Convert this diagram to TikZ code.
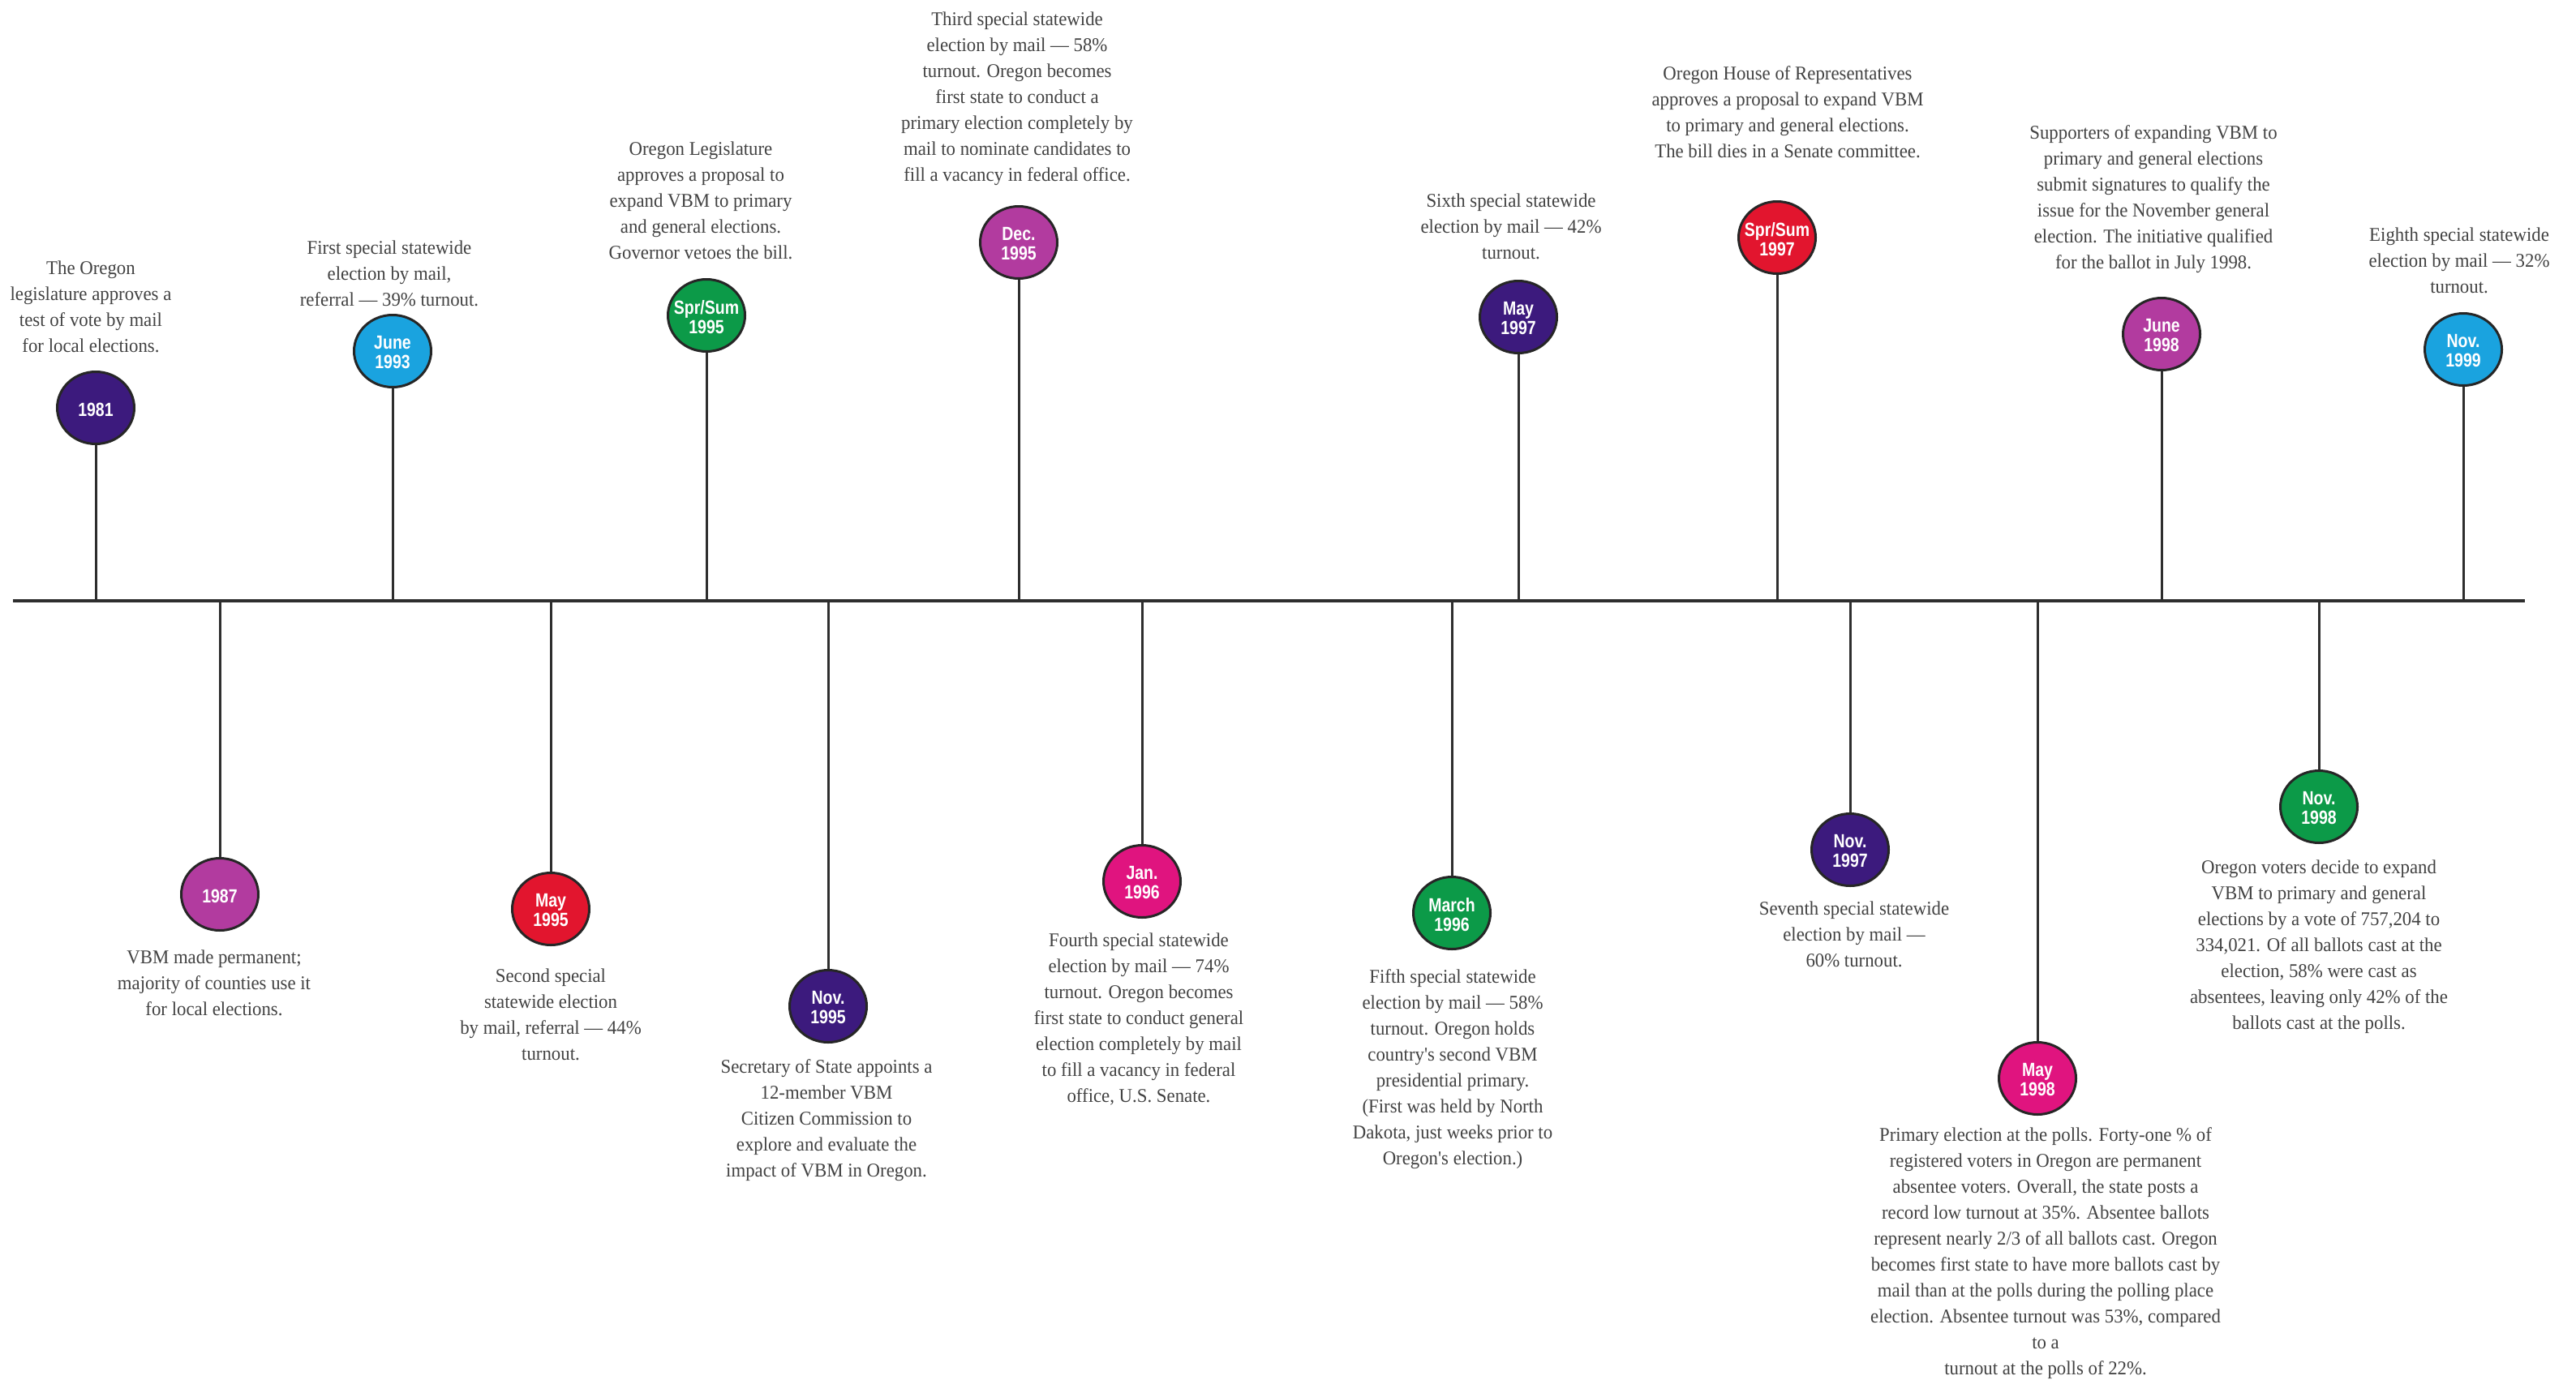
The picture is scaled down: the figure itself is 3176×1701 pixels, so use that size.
\documentclass[tikz,border=0pt]{standalone}
\usepackage{fontspec}
\usetikzlibrary{shapes.geometric}
\newfontfamily\bodyfont[FakeStretch=0.95]{Liberation Serif}
\newfontfamily\datefont[FakeStretch=0.83]{Liberation Sans}
\definecolor{dpurple}{HTML}{3C1A7D}
\definecolor{lblue}{HTML}{1AA3DF}
\definecolor{egreen}{HTML}{0C9A48}
\definecolor{mpurple}{HTML}{B23B9F}
\definecolor{ered}{HTML}{E2152E}
\definecolor{epink}{HTML}{E0147F}
\definecolor{textgray}{HTML}{424242}
\definecolor{linegray}{HTML}{2E2E2E}
\begin{document}
\begin{tikzpicture}[x=1pt,y=-1pt,
  dot/.style={ellipse, draw=black!85, line width=3pt, minimum width=95pt, minimum height=89pt, inner sep=0pt},
  datelbl/.style={font=\datefont\bfseries\fontsize{23.5}{24}\selectfont, text=white, align=center, inner sep=0pt, yshift=-2pt},
  desc/.style={font=\bodyfont\fontsize{24}{32}\selectfont, text=textgray, align=center, inner sep=0pt},
  stem/.style={draw=linegray, line width=3pt},
  axisline/.style={draw=linegray, line width=3.5pt}]
\useasboundingbox (0,0) rectangle (3176,1701);
\fill[white] (0,0) rectangle (3176,1701);

% axis
\coordinate (axL) at (16,741);
\coordinate (axR) at (3113,741);
\draw[axisline] (axL) -- (axR);

% top dots
\node[dot, fill=dpurple, label={[datelbl]center:1981}] (d1) at (118,503) {};
\node[dot, fill=lblue, label={[datelbl]center:June\\1993}] (d2) at (484,433) {};
\node[dot, fill=egreen, label={[datelbl]center:Spr/Sum\\1995}] (d3) at (871,389) {};
\node[dot, fill=mpurple, label={[datelbl]center:Dec.\\1995}] (d4) at (1256,299) {};
\node[dot, fill=dpurple, label={[datelbl]center:May\\1997}] (d5) at (1872,391) {};
\node[dot, fill=ered, label={[datelbl]center:Spr/Sum\\1997}] (d6) at (2191,293) {};
\node[dot, fill=mpurple, label={[datelbl]center:June\\1998}] (d7) at (2665,412) {};
\node[dot, fill=lblue, label={[datelbl]center:Nov.\\1999}] (d8) at (3037,431) {};

% bottom dots
\node[dot, fill=mpurple, label={[datelbl]center:1987}] (b1) at (271,1103) {};
\node[dot, fill=ered, label={[datelbl]center:May\\1995}] (b2) at (679,1121) {};
\node[dot, fill=dpurple, label={[datelbl]center:Nov.\\1995}] (b3) at (1021,1241) {};
\node[dot, fill=epink, label={[datelbl]center:Jan.\\1996}] (b4) at (1408,1087) {};
\node[dot, fill=egreen, label={[datelbl]center:March\\1996}] (b5) at (1790,1126) {};
\node[dot, fill=dpurple, label={[datelbl]center:Nov.\\1997}] (b6) at (2281,1048) {};
\node[dot, fill=epink, label={[datelbl]center:May\\1998}] (b7) at (2512,1330) {};
\node[dot, fill=egreen, label={[datelbl]center:Nov.\\1998}] (b8) at (2859,995) {};

% stems
\foreach \d in {d1,d2,d3,d4,d5,d6,d7,d8}
  \draw[stem] (\d.south) -- (\d.south |- axL);
\foreach \d in {b1,b2,b3,b4,b5,b6,b7,b8}
  \draw[stem] (\d.north) -- (\d.north |- axL);

% top texts
\node[desc] (t1) at (112,378) {The Oregon\\legislature approves a\\test of vote by mail\\for local elections.};
\node[desc] (t2) at (480,337) {First special statewide\\election by mail,\\referral — 39\% turnout.};
\node[desc] (t3) at (864,247) {Oregon Legislature\\approves a proposal to\\expand VBM to primary\\and general elections.\\Governor vetoes the bill.};
\node[desc] (t4) at (1254,122) {Third special statewide\\election by mail — 58\%\\turnout. Oregon becomes\\first state to conduct a\\primary election completely by\\mail to nominate candidates to\\fill a vacancy in federal office.};
\node[desc] (t5) at (1863,279) {Sixth special statewide\\election by mail — 42\%\\turnout.};
\node[desc] (t6) at (2204,138) {Oregon House of Representatives\\approves a proposal to expand VBM\\to primary and general elections.\\The bill dies in a Senate committee.};
\node[desc] (t7) at (2655,246) {Supporters of expanding VBM to\\primary and general elections\\submit signatures to qualify the\\issue for the November general\\election. The initiative qualified\\for the ballot in July 1998.};
\node[desc] (t8) at (3032,321) {Eighth special statewide\\election by mail — 32\%\\turnout.};

% bottom texts
\node[desc] (s1) at (264,1212) {VBM made permanent;\\majority of counties use it\\for local elections.};
\node[desc] (s2) at (679,1251) {Second special\\statewide election\\by mail, referral — 44\%\\turnout.};
\node[desc] (s3) at (1019,1382) {Secretary of State appoints a\\12-member VBM\\Citizen Commission to\\explore and evaluate the\\impact of VBM in Oregon.};
\node[desc] (s4) at (1404,1257) {Fourth special statewide\\election by mail — 74\%\\turnout. Oregon becomes\\first state to conduct general\\election completely by mail\\to fill a vacancy in federal\\office, U.S. Senate.};
\node[desc] (s5) at (1791,1319) {Fifth special statewide\\election by mail — 58\%\\turnout. Oregon holds\\country's second VBM\\presidential primary.\\(First was held by North\\Dakota, just weeks prior to\\Oregon's election.)};
\node[desc] (s6) at (2286,1152) {Seventh special statewide\\election by mail —\\60\% turnout.};
\node[desc] (s7) at (2522,1546) {Primary election at the polls. Forty-one \% of\\registered voters in Oregon are permanent\\absentee voters. Overall, the state posts a\\record low turnout at 35\%. Absentee ballots\\represent nearly 2/3 of all ballots cast. Oregon\\becomes first state to have more ballots cast by\\mail than at the polls during the polling place\\election. Absentee turnout was 53\%, compared\\to a\\turnout at the polls of 22\%.};
\node[desc] (s8) at (2859,1168) {Oregon voters decide to expand\\VBM to primary and general\\elections by a vote of 757,204 to\\334,021. Of all ballots cast at the\\election, 58\% were cast as\\absentees, leaving only 42\% of the\\ballots cast at the polls.};
\end{tikzpicture}
\end{document}
